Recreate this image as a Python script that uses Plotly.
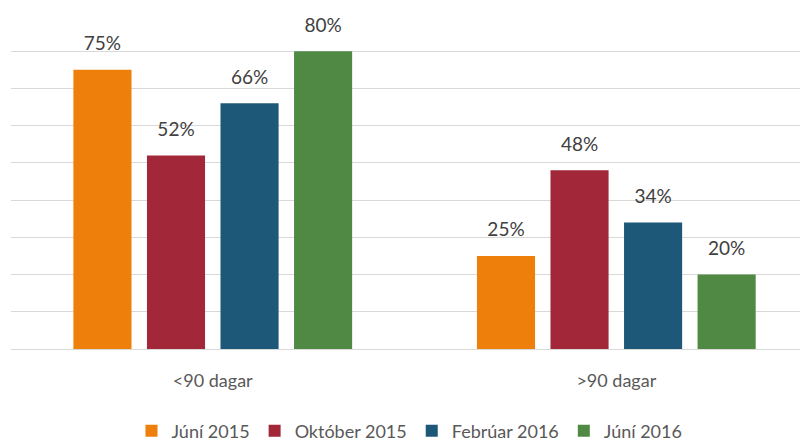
import plotly.graph_objects as go

categories = ["<90 dagar", ">90 dagar"]
series_names = ["Júní 2015", "Október 2015", "Febrúar 2016", "Júní 2016"]
values = {
    "Júní 2015": [75, 25],
    "Október 2015": [52, 48],
    "Febrúar 2016": [66, 34],
    "Júní 2016": [80, 20],
}
colors = {
    "Júní 2015": "#EF7F0B",
    "Október 2015": "#A22738",
    "Febrúar 2016": "#1E5879",
    "Júní 2016": "#508944",
}

FONT = "Lato"
fig = go.Figure()
for i, name in enumerate(series_names):
    fig.add_trace(go.Bar(
        x=categories, y=values[name], name=name,
        marker=dict(color=colors[name], line=dict(width=0)),
        offsetgroup=str(i),
    ))
for i, name in enumerate(series_names):
    fig.add_trace(go.Scatter(
        x=categories, y=values[name], mode="markers+text",
        text=[f"{v}%" for v in values[name]], textposition="top center",
        textfont=dict(family=FONT, size=19, color="#404040"),
        marker=dict(size=22, color="rgba(0,0,0,0)"),
        offsetgroup=str(i), showlegend=False, hoverinfo="skip", cliponaxis=False,
    ))

# page body has a default 8px margin; the figure is sized to fill the rest of the window
fig.update_layout(
    width=800, height=435,
    margin=dict(l=3, r=0, t=5.5, b=93.5, autoexpand=False),
    paper_bgcolor="white", plot_bgcolor="white",
    barmode="group", bargap=0.271, bargroupgap=0.21,
    scattermode="group", scattergap=0.271,
    font=dict(family=FONT, size=18, color="#595959"),
    showlegend=True,
    legend=dict(orientation="h", x=0.5, xanchor="center", y=-0.245, yanchor="middle",
                font=dict(family=FONT, size=18, color="#595959"), itemwidth=30,
                traceorder="normal"),
)
fig.update_xaxes(range=[-0.5, 1.475], showgrid=False, showline=False, ticks="",
                 tickfont=dict(family=FONT, size=18, color="#595959"),
                 ticklabelstandoff=19, automargin=False)
fig.update_yaxes(range=[0, 90], dtick=10, showgrid=True, gridcolor="#D9D9D9", gridwidth=1.3,
                 zeroline=True, zerolinecolor="#D9D9D9", zerolinewidth=1.3,
                 showticklabels=False, showline=False, automargin=False)

fig.write_html("out.html")
